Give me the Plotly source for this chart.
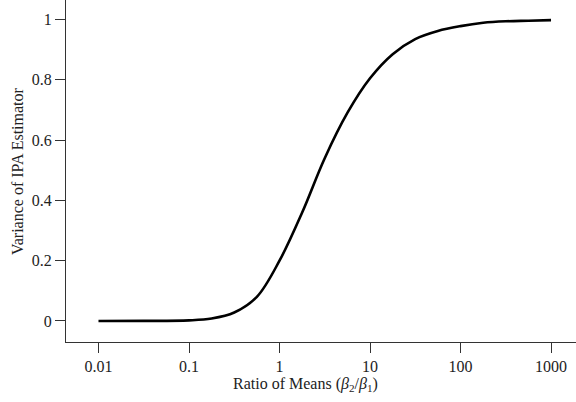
import plotly.graph_objects as go

# Ratio of means (beta2/beta1) and the variance of the IPA estimator
ratio = [0.01, 0.0316, 0.1, 0.178, 0.316, 0.562, 1.0, 1.78, 3.16,
         5.62, 10.0, 17.8, 31.6, 56.2, 100, 178, 316, 562, 1000]
variance = [0.000, 0.0003, 0.002, 0.008, 0.028, 0.080, 0.200, 0.360,
            0.540, 0.690, 0.805, 0.885, 0.935, 0.962, 0.978, 0.989,
            0.994, 0.996, 0.998]

x_ticks = [0.01, 0.1, 1, 10, 100, 1000]
x_tick_text = ["0.01", "0.1", "1", "10", "100", "1000"]
y_ticks = [0, 0.2, 0.4, 0.6, 0.8, 1]
y_tick_text = ["0", "0.2", "0.4", "0.6", "0.8", "1"]

FONT = "Liberation Serif"
TEXT_COLOR = "#222222"
AXIS_COLOR = "#333333"

fig = go.Figure()
fig.add_trace(go.Scatter(
    x=ratio, y=variance, mode="lines",
    line=dict(color="black", width=2.6, shape="spline", smoothing=1.0),
    showlegend=False, hoverinfo="skip",
))

fig.update_layout(
    width=576, height=402,
    margin=dict(l=66, r=0, t=0, b=60),
    paper_bgcolor="white", plot_bgcolor="white",
    font=dict(family=FONT, size=16, color=TEXT_COLOR),
    xaxis=dict(
        type="log", range=[-2.359, 3.276],
        tickmode="array", tickvals=x_ticks, ticktext=x_tick_text,
        showline=True, linecolor=AXIS_COLOR, linewidth=1.2,
        ticks="outside", ticklen=10, tickwidth=1.2, tickcolor=AXIS_COLOR,
        showgrid=False, zeroline=False, automargin=False,
    ),
    yaxis=dict(
        range=[-0.0697, 1.0647],
        tickmode="array", tickvals=y_ticks, ticktext=y_tick_text,
        showline=True, linecolor=AXIS_COLOR, linewidth=1.2,
        ticks="outside", ticklen=10, tickwidth=1.2, tickcolor=AXIS_COLOR,
        showgrid=False, zeroline=False, automargin=False,
    ),
    annotations=[
        dict(text="Ratio of Means (<i>β</i><sub>2</sub>/<i>β</i><sub>1</sub>)",
             xref="paper", yref="paper", x=0.47, y=-0.123,
             xanchor="center", yanchor="middle", showarrow=False,
             font=dict(family=FONT, size=16, color=TEXT_COLOR)),
        dict(text="Variance of IPA Estimator",
             xref="paper", yref="paper", x=-0.096, y=0.5, textangle=-90,
             xanchor="center", yanchor="middle", showarrow=False,
             font=dict(family=FONT, size=16, color=TEXT_COLOR)),
    ],
)

fig.write_html("out.html")
